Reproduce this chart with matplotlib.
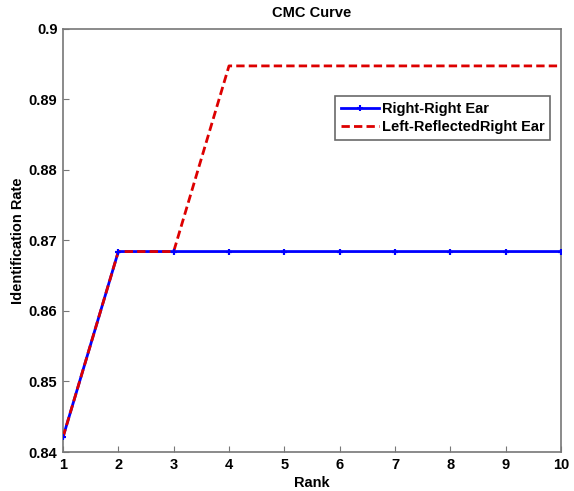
import matplotlib
matplotlib.use('Agg')
import matplotlib.pyplot as plt

rank = [1, 2, 3, 4, 5, 6, 7, 8, 9, 10]
right_right = [0.8421, 0.8684, 0.8684, 0.8684, 0.8684, 0.8684, 0.8684, 0.8684, 0.8684, 0.8684]
left_reflected = [0.8421, 0.8684, 0.8684, 0.8947, 0.8947, 0.8947, 0.8947, 0.8947, 0.8947, 0.8947]
yticks = [0.84, 0.85, 0.86, 0.87, 0.88, 0.89, 0.9]

plt.rcParams['font.family'] = ['Liberation Sans', 'DejaVu Sans']
plt.rcParams['font.weight'] = 'bold'

fig = plt.figure(figsize=(5.74, 4.91), dpi=100)
ax = fig.add_axes([63 / 574, 1 - 452 / 491, 498 / 574, 423.5 / 491])

ax.plot(rank, right_right, color='#0000ff', lw=2, marker='+', ms=5, mew=1.5,
        label='Right-Right Ear', zorder=2)
ax.plot(rank, left_reflected, color='#dd0000', lw=2, ls='--', dashes=(3, 1.5),
        label='Left-ReflectedRight Ear', zorder=3)
# blue markers stay visible on top of the dashed line
ax.plot(rank, right_right, ls='none', color='#0000ff', marker='+', ms=5, mew=1.5, zorder=4)

ax.set_xlim(1, 10)
ax.set_ylim(0.84, 0.9)
ax.set_xticks(rank)
ax.set_yticks(yticks)
ax.set_yticklabels(['0.84', '0.85', '0.86', '0.87', '0.88', '0.89', '0.9'])
ax.tick_params(direction='in', length=4, color='#777777', labelsize=10.5, pad=4)
for lab in ax.get_xticklabels() + ax.get_yticklabels():
    lab.set_fontweight('bold')
for s in ax.spines.values():
    s.set_color('#777777')
    s.set_linewidth(1.2)

ax.set_xlabel('Rank', fontsize=10.5, fontweight='bold', labelpad=3)
ax.set_ylabel('Identification Rate', fontsize=10.5, fontweight='bold', labelpad=3)
ax.set_title('CMC Curve', fontsize=10.5, fontweight='bold', pad=8)

leg = ax.legend(loc='upper left', bbox_to_anchor=(0.546, 0.84), fontsize=10.5,
                frameon=True, fancybox=False, handlelength=2.6, handletextpad=0.2,
                borderpad=0.4, labelspacing=0.25, borderaxespad=0)
leg.get_frame().set_edgecolor('#444444')
leg.get_frame().set_linewidth(1.2)
for t in leg.get_texts():
    t.set_fontweight('bold')

fig.savefig('out.png', dpi=100)
